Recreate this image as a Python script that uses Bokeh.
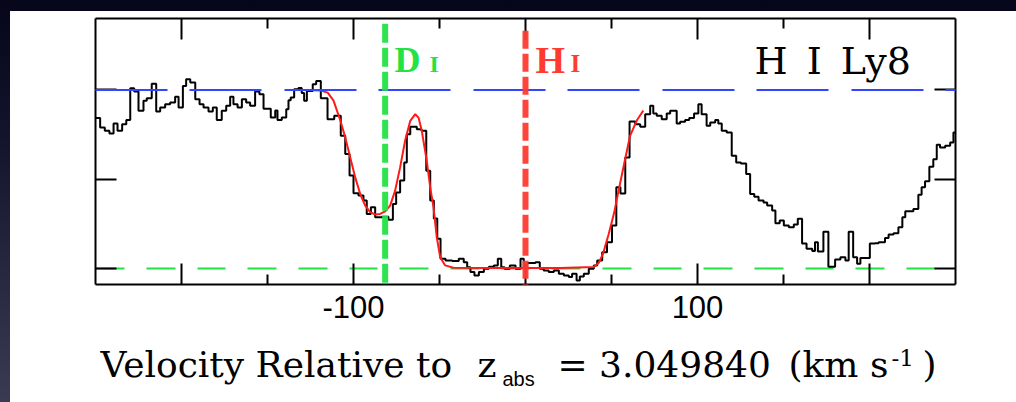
from bokeh.plotting import figure
from bokeh.models import LinearAxis, FixedTicker, Label, Spacer
from bokeh.layouts import column, row
from bokeh.embed import file_html
from bokeh.resources import INLINE

# ---------------------------------------------------------------- data
# Left edge of each spectral bin (km/s) and the normalised flux in that bin
VEL_EDGES = [
    -250.0, -247.3, -244.6, -241.9, -239.5, -237.2, -234.5, -232.1, -229.8, -227.5,
    -225.0, -222.1, -220.2, -217.3, -214.7, -212.4, -209.5, -206.6, -203.7, -201.7,
    -199.2, -197.3, -194.9, -192.0, -189.5, -187.2, -184.3, -181.8, -179.5, -176.6,
    -174.0, -171.7, -169.8, -167.4, -164.9, -162.4, -160.1, -157.2, -154.7, -152.3,
    -148.1, -145.5, -144.2, -141.7, -139.1, -137.8, -136.5, -134.5, -132.0, -130.1,
    -128.7, -127.1, -123.7, -121.7, -119.0, -115.1, -111.2, -107.4, -104.8, -102.3,
    -100.0, -97.1, -94.2, -92.3, -89.9, -87.4, -83.5, -79.7, -77.1, -75.2,
    -72.9, -70.5, -69.0, -67.0, -63.2, -60.5, -57.7, -55.4, -53.3, -51.3,
    -49.4, -46.5, -42.6, -38.8, -35.9, -33.9, -32.0, -29.7, -27.1, -24.2,
    -21.3, -18.4, -16.1, -14.1, -12.2, -9.1, -5.8, -2.9, -1.0, 1.0,
    2.9, 5.8, 8.3, 10.6, 13.5, 16.5, 19.4, 22.3, 25.2, 27.1,
    29.7, 31.6, 33.9, 36.8, 39.7, 41.7, 44.6, 47.4, 50.3, 52.8,
    55.2, 58.0, 60.5, 63.8, 66.7, 69.6, 72.5, 74.3, 76.3, 79.2,
    82.1, 84.1, 87.9, 89.9, 92.8, 95.2, 98.0, 100.5, 102.4, 105.3,
    107.4, 110.3, 112.1, 114.1, 117.0, 119.9, 122.5, 125.2, 128.3, 130.6,
    133.0, 135.5, 138.4, 140.5, 143.4, 145.3, 147.8, 150.2, 153.1, 156.0,
    158.3, 160.8, 163.4, 166.7, 168.3, 170.0, 173.2, 176.1, 180.0, 183.1,
    186.0, 187.9, 190.5, 192.8, 194.7, 200.2, 203.2, 205.3, 209.0, 211.1,
    214.0, 216.8, 219.1, 220.8, 225.5, 228.4, 230.3, 232.3, 234.8, 237.1,
    239.1, 241.0, 244.0, 246.9, 248.8,
]
FLUX = [
    0.842, 0.790, 0.771, 0.756, 0.812, 0.771, 0.808, 0.831, 1.009, 0.991,
    0.883, 0.939, 0.953, 1.035, 0.879, 0.901, 0.920, 0.929, 0.961, 0.901,
    1.022, 1.060, 1.041, 0.948, 0.920, 0.901, 0.879, 0.901, 0.831, 0.883,
    0.911, 0.961, 0.920, 0.901, 0.948, 0.929, 0.911, 0.991, 0.976, 0.895,
    0.845, 0.885, 0.832, 0.845, 0.892, 0.942, 0.957, 1.004, 1.010, 0.983,
    0.939, 0.994, 1.032, 1.050, 0.953, 0.836, 0.855, 0.743, 0.641, 0.520,
    0.421, 0.408, 0.380, 0.305, 0.343, 0.287, 0.290, 0.272, 0.361, 0.426,
    0.492, 0.594, 0.752, 0.793, 0.780, 0.771, 0.547, 0.380, 0.280, 0.166,
    0.054, 0.045, 0.041, 0.054, 0.035, 0.007, -0.020, -0.039, -0.020, -0.002,
    0.010, 0.017, 0.054, 0.007, -0.002, 0.017, -0.002, 0.054, 0.010, 0.030,
    0.030, 0.035, -0.002, -0.011, -0.020, -0.011, -0.030, -0.039, -0.048, -0.030,
    -0.067, -0.045, -0.030, -0.002, 0.017, 0.045, 0.090, 0.147, 0.240, 0.455,
    0.420, 0.622, 0.823, 0.808, 0.793, 0.864, 0.911, 0.868, 0.855, 0.836,
    0.868, 0.883, 0.812, 0.821, 0.831, 0.842, 0.868, 0.920, 0.864, 0.799,
    0.818, 0.831, 0.812, 0.771, 0.762, 0.631, 0.594, 0.588, 0.529, 0.417,
    0.402, 0.380, 0.370, 0.352, 0.324, 0.253, 0.268, 0.240, 0.231, 0.246,
    0.278, 0.140, 0.110, 0.097, 0.147, 0.095, 0.205, 0.009, 0.050, 0.063,
    0.045, 0.205, 0.063, 0.026, 0.058, 0.140, 0.141, 0.147, 0.170, 0.190,
    0.197, 0.231, 0.287, 0.320, 0.333, 0.413, 0.455, 0.488, 0.570, 0.612,
    0.693, 0.678, 0.687, 0.706, 0.762,
]

# Fitted absorption model (H I + D I)
MODEL_VEL = [
    -127.7, -119.0, -115.0, -111.6, -107.7, -104.8, -101.9, -99.0, -96.1, -93.2,
    -90.3, -87.4, -84.5, -81.6, -78.7, -75.8, -72.9, -70.0, -67.0, -64.1,
    -62.2, -60.3, -57.4, -55.4, -53.5, -51.6, -49.6, -46.7, -41.9, -20.0,
    0.0, 20.0, 39.6, 42.5, 45.0, 48.3, 51.5, 54.0, 57.0, 60.8,
    64.6, 68.5,
]
MODEL_FLUX = [
    1.000, 0.997, 0.985, 0.940, 0.830, 0.734, 0.622, 0.510, 0.417, 0.352,
    0.315, 0.302, 0.305, 0.320, 0.352, 0.436, 0.566, 0.715, 0.827, 0.864,
    0.845, 0.771, 0.603, 0.454, 0.343, 0.175, 0.063, 0.017, 0.004, 0.003,
    0.003, 0.003, 0.008, 0.030, 0.080, 0.190, 0.310, 0.430, 0.570, 0.743,
    0.827, 0.885,
]

VEL_RANGE = (-250.0, 250.0)
FLUX_RANGE = (-0.09, 1.40)
CONTINUUM = 1.0
ZERO_LEVEL = 0.0
H_I_VEL = 0.0
D_I_VEL = -81.6
H_I_MARK_TOP = 1.332
D_I_MARK_TOP = 1.37

XTICKS_MAJOR = [-200, -100, 0, 100, 200]
XTICKS_MINOR = [-150, -50, 50, 150]
XTICKS_LABELLED = [-100, 100]
XTICK_LABELS = {-100: "-100", 100: "100"}
YTICKS = [0.0, 0.5, 1.0]

GREEN = "#22e244"
RED = "#ff3b30"
BLUE = "#3445ff"

# ---------------------------------------------------------------- main panel
p = figure(
    width=1006, height=324,
    x_range=VEL_RANGE, y_range=FLUX_RANGE,
    x_axis_type=None, y_axis_type=None,
    output_backend="svg", toolbar_location=None,
    min_border_left=85, min_border_right=61,
    min_border_top=7, min_border_bottom=51,
    background_fill_color="white", border_fill_color="white",
)
p.outline_line_color = None
p.xgrid.visible = False
p.ygrid.visible = False


def tick_axis(ticker, minor_len=10):
    """Frame edge with inward ticks and no tick labels."""
    ax = LinearAxis(ticker=ticker)
    ax.axis_line_width = 2
    ax.axis_line_color = "black"
    ax.major_tick_in = 21
    ax.major_tick_out = 0
    ax.major_tick_line_width = 2
    ax.minor_tick_in = minor_len
    ax.minor_tick_out = 0
    ax.minor_tick_line_width = 2
    ax.major_label_text_color = None
    ax.major_label_text_font_size = "1px"
    ax.major_label_standoff = 0
    return ax


xt = FixedTicker(ticks=XTICKS_MAJOR, minor_ticks=XTICKS_MINOR)
yt = FixedTicker(ticks=YTICKS, minor_ticks=[])
p.add_layout(tick_axis(xt), "below")
p.add_layout(tick_axis(xt), "above")
p.add_layout(tick_axis(yt, minor_len=0), "left")
p.add_layout(tick_axis(yt, minor_len=0), "right")

# numbers under the labelled ticks
lab = LinearAxis(ticker=FixedTicker(ticks=XTICKS_LABELLED, minor_ticks=[]))
lab.axis_line_color = None
lab.major_tick_line_color = None
lab.minor_tick_line_color = None
lab.major_label_text_font = "Liberation Sans"
lab.major_label_text_font_size = "31px"
lab.major_label_text_color = "black"
lab.major_label_standoff = 5
lab.major_label_overrides = XTICK_LABELS
p.add_layout(lab, "below")

# continuum and zero level
p.line(list(VEL_RANGE), [CONTINUUM, CONTINUUM], line_color=BLUE, line_width=2,
       line_dash="72 22 72 23", level="overlay")
p.line(list(VEL_RANGE), [ZERO_LEVEL, ZERO_LEVEL], line_color=GREEN, line_width=2,
       line_dash="29 22 29 22 28 22")

# observed spectrum as a histogram-style step
p.step(VEL_EDGES + [VEL_RANGE[1]], FLUX + [FLUX[-1]], mode="after",
       line_color="black", line_width=2)

# absorption model
p.line(MODEL_VEL, MODEL_FLUX, line_color="#ff1a1a", line_width=2)

# line-centre markers
p.line([D_I_VEL, D_I_VEL], [D_I_MARK_TOP, FLUX_RANGE[0]], line_color=GREEN,
       line_width=6, line_dash="19 5", line_alpha=0.95, level="overlay")
p.line([H_I_VEL, H_I_VEL], [H_I_MARK_TOP, FLUX_RANGE[0]], line_color=RED,
       line_width=6, line_dash="18 5", line_alpha=0.95, level="overlay")


def note(fig, x, y, text, font, size, color="black", style="normal", units="screen"):
    fig.add_layout(Label(x=x, y=y, x_units=units, y_units=units, text=text,
                         text_font=font, text_font_size=size, text_color=color,
                         text_font_style=style, text_align="left",
                         text_baseline="middle"))


# ion labels
note(p, 299, 225, "D", "Liberation Serif", "36px", GREEN, "bold")
note(p, 334, 221, "I", "Liberation Serif", "24px", GREEN, "bold")
note(p, 440, 225, "H", "Liberation Serif", "38px", RED, "bold")
note(p, 475, 221, "I", "Liberation Serif", "25px", RED, "bold")

# transition label
note(p, 659, 224, "H\u2002I\u2002Ly8", "DejaVu Serif", "38px")

# ---------------------------------------------------------------- axis title strip
# its frame lines up with the panel above, so x is given in page pixels
t = figure(
    width=1006, height=67, x_range=(85, 945), y_range=(0, 67),
    x_axis_type=None, y_axis_type=None,
    output_backend="svg", toolbar_location=None,
    min_border=0, background_fill_color="white", border_fill_color="white",
)
t.outline_line_color = None
t.xgrid.visible = False
t.ygrid.visible = False

note(t, 90, 38, "Velocity Relative to", "DejaVu Serif", "36px", units="data")
note(t, 467, 38, "z", "DejaVu Serif", "36px", units="data")
note(t, 492, 23.5, "abs", "Liberation Sans", "20px", units="data")
note(t, 547, 38, "= 3.049840", "DejaVu Serif", "36px", units="data")
note(t, 778, 38, "(km s", "DejaVu Serif", "36px", units="data")
note(t, 881, 45, "-1", "DejaVu Serif", "23px", units="data")
note(t, 912, 38, ")", "DejaVu Serif", "36px", units="data")

page = column(
    Spacer(width=1016, height=11),
    row(Spacer(width=10, height=391),
        column(p, t, width=1006, height=391, styles={"background": "white"}),
        width=1016, height=391),
    width=1016, height=402,
    styles={"background": "linear-gradient(180deg, #05061a 0%, #14152d 35%, #3a3b52 100%)"},
)

open("out.html", "w").write(file_html(page, INLINE))
